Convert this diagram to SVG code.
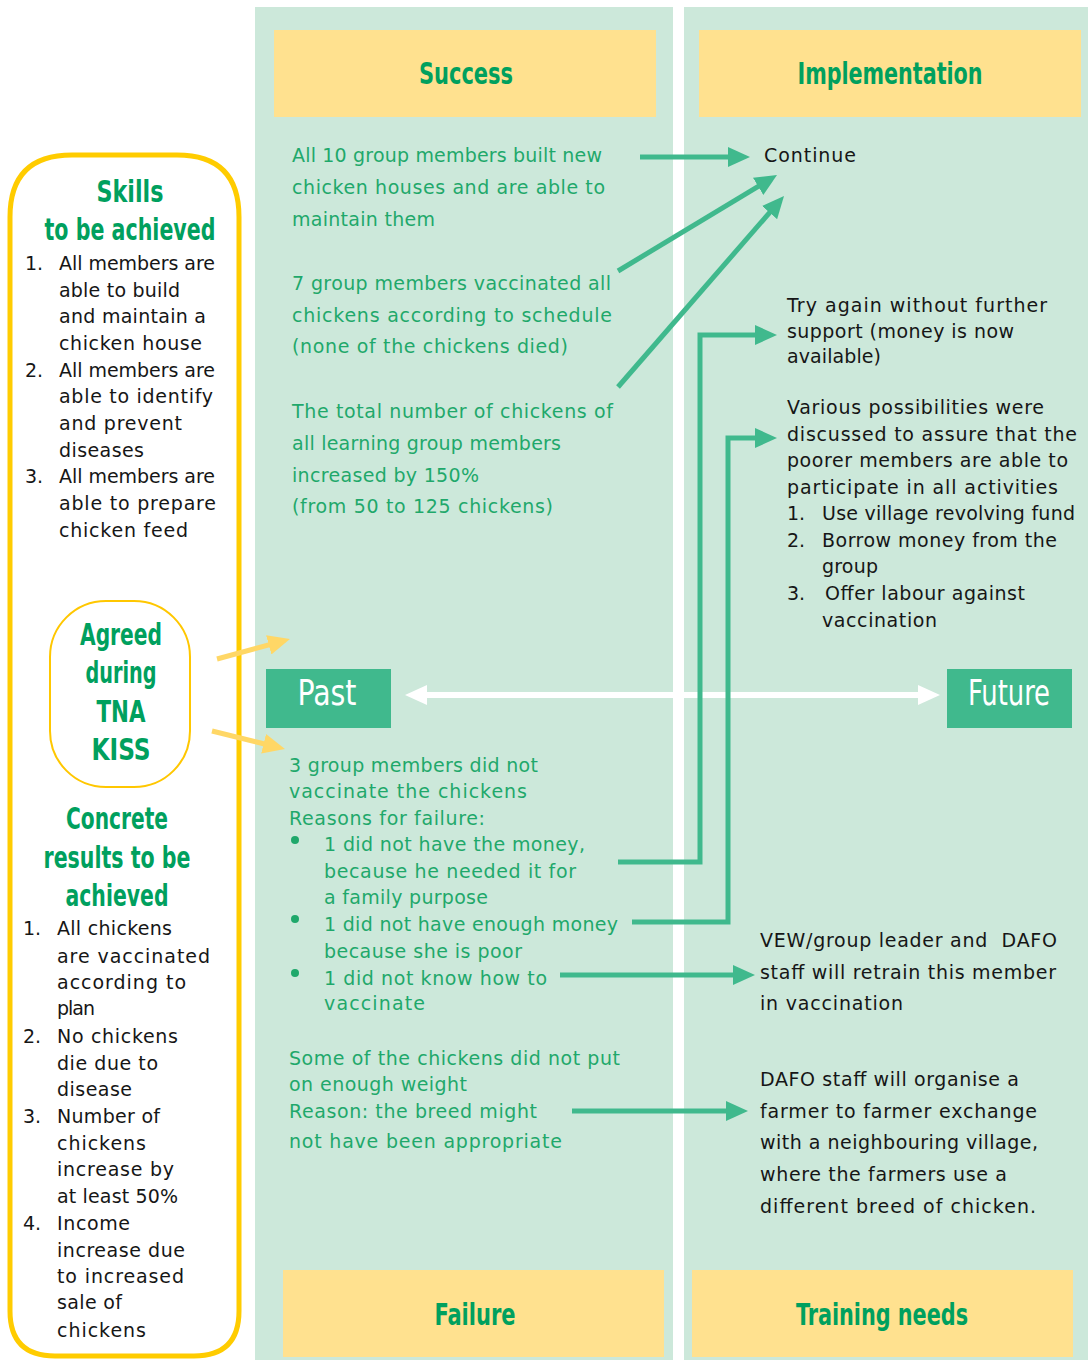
<svg xmlns="http://www.w3.org/2000/svg" width="1088" height="1360" viewBox="0 0 1088 1360">
  <style>
    .panel { fill: #cce8da; }
    .hbox { fill: #ffe18f; }
    .hd { font-family: "Liberation Sans Narrow", "DejaVu Sans Condensed", sans-serif; font-weight: bold; fill: #00a05e; text-anchor: middle; }
    .tl { font-family: "Liberation Sans Narrow", "DejaVu Sans Condensed", sans-serif; font-size: 35px; fill: #ffffff; text-anchor: middle; }
    .g { font-family: "DejaVu Sans", sans-serif; font-size: 19px; fill: #1fa86b; }
    .k { font-family: "DejaVu Sans", sans-serif; font-size: 19px; fill: #161616; }
    .link { fill: none; stroke: #40b98d; stroke-width: 5; stroke-linejoin: miter; }
    .ylink { fill: none; stroke: #ffd766; stroke-width: 5; }
  </style>
  <defs>
    <marker id="tip" viewBox="0 0 22 20" markerWidth="22" markerHeight="20" markerUnits="userSpaceOnUse" refX="4" refY="10" orient="auto">
      <path d="M0,0 L22,10 L0,20 z" fill="#40b98d"/>
    </marker>
    <marker id="ytip" viewBox="0 0 22 20" markerWidth="22" markerHeight="20" markerUnits="userSpaceOnUse" refX="4" refY="10" orient="auto">
      <path d="M0,0 L22,10 L0,20 z" fill="#ffd766"/>
    </marker>
    <marker id="wtip" viewBox="0 0 22 20" markerWidth="22" markerHeight="20" markerUnits="userSpaceOnUse" refX="4" refY="10" orient="auto-start-reverse">
      <path d="M0,0 L22,10 L0,20 z" fill="#ffffff"/>
    </marker>
  </defs>

  <rect width="1088" height="1360" fill="#ffffff"/>

  <!-- two background columns -->
  <rect class="panel" x="255" y="7" width="418" height="1353"/>
  <rect class="panel" x="684" y="7" width="404" height="1353"/>

  <!-- time axis -->
  <line x1="423" y1="695" x2="922" y2="695" stroke="#ffffff" stroke-width="6" marker-start="url(#wtip)" marker-end="url(#wtip)"/>

  <g id="success">
    <rect class="hbox" x="274" y="30" width="382" height="87"/>
    <text class="hd" x="466" y="84" font-size="30" textLength="94" lengthAdjust="spacingAndGlyphs">Success</text>
  </g>
  <g id="implementation">
    <rect class="hbox" x="699" y="30" width="382" height="87"/>
    <text class="hd" x="890" y="84" font-size="30" textLength="185" lengthAdjust="spacingAndGlyphs">Implementation</text>
  </g>
  <g id="failure">
    <rect class="hbox" x="283" y="1270" width="381" height="87"/>
    <text class="hd" x="475" y="1325" font-size="30" textLength="81" lengthAdjust="spacingAndGlyphs">Failure</text>
  </g>
  <g id="training-needs">
    <rect class="hbox" x="692" y="1270" width="381" height="87"/>
    <text class="hd" x="882" y="1325" font-size="30" textLength="172" lengthAdjust="spacingAndGlyphs">Training needs</text>
  </g>

  <g id="past">
    <rect x="266" y="669" width="125" height="59" fill="#40b98d"/>
    <text class="tl" x="327" y="705" textLength="59" lengthAdjust="spacingAndGlyphs">Past</text>
  </g>
  <g id="future">
    <rect x="947" y="669" width="125" height="59" fill="#40b98d"/>
    <text class="tl" x="1009" y="705" textLength="82" lengthAdjust="spacingAndGlyphs">Future</text>
  </g>

  <!-- left frame: skills and concrete results -->
  <g id="skills">
    <path d="M10,1311 L10,217 Q10,155 72,155 L177,155 Q239,155 239,217 L239,1311 Q239,1356 194,1356 L55,1356 Q10,1356 10,1311 z" fill="#ffffff" stroke="#ffcc00" stroke-width="5"/>
    <text class="hd" x="130" y="202" font-size="30" textLength="67" lengthAdjust="spacingAndGlyphs">Skills</text>
    <text class="hd" x="130" y="240" font-size="30" textLength="171" lengthAdjust="spacingAndGlyphs">to be achieved</text>
    <text class="k" x="25" y="270">1.</text>
    <text class="k" x="59" y="270" textLength="156">All members are</text>
    <text class="k" x="59" y="297" textLength="121">able to build</text>
    <text class="k" x="59" y="323" textLength="147">and maintain a</text>
    <text class="k" x="59" y="350" textLength="143">chicken house</text>
    <text class="k" x="25" y="377">2.</text>
    <text class="k" x="59" y="377" textLength="156">All members are</text>
    <text class="k" x="59" y="403" textLength="154">able to identify</text>
    <text class="k" x="59" y="430" textLength="123">and prevent</text>
    <text class="k" x="59" y="457" textLength="85">diseases</text>
    <text class="k" x="25" y="483">3.</text>
    <text class="k" x="59" y="483" textLength="156">All members are</text>
    <text class="k" x="59" y="510" textLength="157">able to prepare</text>
    <text class="k" x="59" y="537" textLength="129">chicken feed</text>
  </g>

  <g id="concrete-results">
    <text class="hd" x="117" y="829" font-size="30" textLength="102" lengthAdjust="spacingAndGlyphs">Concrete</text>
    <text class="hd" x="117" y="868" font-size="30" textLength="147" lengthAdjust="spacingAndGlyphs">results to be</text>
    <text class="hd" x="117" y="906" font-size="30" textLength="103" lengthAdjust="spacingAndGlyphs">achieved</text>
    <text class="k" x="23" y="935">1.</text>
    <text class="k" x="57" y="935" textLength="115">All chickens</text>
    <text class="k" x="57" y="963" textLength="153">are vaccinated</text>
    <text class="k" x="57" y="989" textLength="129">according to</text>
    <text class="k" x="57" y="1015" textLength="38">plan</text>
    <text class="k" x="23" y="1043">2.</text>
    <text class="k" x="57" y="1043" textLength="121">No chickens</text>
    <text class="k" x="57" y="1070" textLength="101">die due to</text>
    <text class="k" x="57" y="1096" textLength="75">disease</text>
    <text class="k" x="23" y="1123">3.</text>
    <text class="k" x="57" y="1123" textLength="103">Number of</text>
    <text class="k" x="57" y="1150" textLength="89">chickens</text>
    <text class="k" x="57" y="1176" textLength="117">increase by</text>
    <text class="k" x="57" y="1203" textLength="121">at least 50%</text>
    <text class="k" x="23" y="1230">4.</text>
    <text class="k" x="57" y="1230" textLength="73">Income</text>
    <text class="k" x="57" y="1257" textLength="128">increase due</text>
    <text class="k" x="57" y="1283" textLength="127">to increased</text>
    <text class="k" x="57" y="1309" textLength="65">sale of</text>
    <text class="k" x="57" y="1337" textLength="89">chickens</text>
  </g>

  <g id="agreed">
    <rect x="50" y="601" width="140" height="186" rx="56" ry="56" fill="#ffffff" stroke="#ffc700" stroke-width="2"/>
    <text class="hd" x="121" y="645" font-size="30" textLength="82" lengthAdjust="spacingAndGlyphs">Agreed</text>
    <text class="hd" x="121" y="683" font-size="30" textLength="71" lengthAdjust="spacingAndGlyphs">during</text>
    <text class="hd" x="121" y="722" font-size="30" textLength="49" lengthAdjust="spacingAndGlyphs">TNA</text>
    <text class="hd" x="121" y="760" font-size="30" textLength="59" lengthAdjust="spacingAndGlyphs">KISS</text>
  </g>

  <!-- success column -->
  <g id="success-houses">
    <text class="g" x="292" y="162" textLength="310">All 10 group members built new</text>
    <text class="g" x="292" y="194" textLength="313">chicken houses and are able to</text>
    <text class="g" x="292" y="226" textLength="143">maintain them</text>
  </g>
  <g id="success-vaccinated">
    <text class="g" x="292" y="290" textLength="319">7 group members vaccinated all</text>
    <text class="g" x="292" y="322" textLength="320">chickens according to schedule</text>
    <text class="g" x="292" y="353" textLength="276">(none of the chickens died)</text>
  </g>
  <g id="success-increase">
    <text class="g" x="292" y="418" textLength="321">The total number of chickens of</text>
    <text class="g" x="292" y="450" textLength="269">all learning group members</text>
    <text class="g" x="292" y="482" textLength="187">increased by 150%</text>
    <text class="g" x="292" y="513" textLength="261">(from 50 to 125 chickens)</text>
  </g>

  <!-- failure column -->
  <g id="failure-vaccination">
    <text class="g" x="289" y="772" textLength="249">3 group members did not</text>
    <text class="g" x="289" y="798" textLength="238">vaccinate the chickens</text>
    <text class="g" x="289" y="825" textLength="196">Reasons for failure:</text>
    <circle cx="295" cy="840" r="4" fill="#1fa86b"/>
    <text class="g" x="324" y="851" textLength="261">1 did not have the money,</text>
    <text class="g" x="324" y="878" textLength="252">because he needed it for</text>
    <text class="g" x="324" y="904" textLength="164">a family purpose</text>
    <circle cx="295" cy="919" r="4" fill="#1fa86b"/>
    <text class="g" x="324" y="931" textLength="294">1 did not have enough money</text>
    <text class="g" x="324" y="958" textLength="198">because she is poor</text>
    <circle cx="295" cy="973" r="4" fill="#1fa86b"/>
    <text class="g" x="324" y="985" textLength="223">1 did not know how to</text>
    <text class="g" x="324" y="1010" textLength="101">vaccinate</text>
  </g>
  <g id="failure-weight">
    <text class="g" x="289" y="1065" textLength="331">Some of the chickens did not put</text>
    <text class="g" x="289" y="1091" textLength="178">on enough weight</text>
    <text class="g" x="289" y="1118" textLength="248">Reason: the breed might</text>
    <text class="g" x="289" y="1148" textLength="273">not have been appropriate</text>
  </g>

  <!-- implementation / training column -->
  <g id="continue">
    <text class="k" x="764" y="162" textLength="92">Continue</text>
  </g>
  <g id="try-again">
    <text class="k" x="787" y="312" textLength="260">Try again without further</text>
    <text class="k" x="787" y="338" textLength="227">support (money is now</text>
    <text class="k" x="787" y="363" textLength="94">available)</text>
  </g>
  <g id="possibilities">
    <text class="k" x="787" y="414" textLength="257">Various possibilities were</text>
    <text class="k" x="787" y="441" textLength="290">discussed to assure that the</text>
    <text class="k" x="787" y="467" textLength="281">poorer members are able to</text>
    <text class="k" x="787" y="494" textLength="271">participate in all activities</text>
    <text class="k" x="787" y="520">1.</text>
    <text class="k" x="822" y="520" textLength="253">Use village revolving fund</text>
    <text class="k" x="787" y="547">2.</text>
    <text class="k" x="822" y="547" textLength="235">Borrow money from the</text>
    <text class="k" x="822" y="573" textLength="56">group</text>
    <text class="k" x="787" y="600">3.</text>
    <text class="k" x="825" y="600" textLength="200">Offer labour against</text>
    <text class="k" x="822" y="627" textLength="115">vaccination</text>
  </g>
  <g id="retrain">
    <text class="k" x="760" y="947" textLength="297" xml:space="preserve">VEW/group leader and  DAFO</text>
    <text class="k" x="760" y="979" textLength="296">staff will retrain this member</text>
    <text class="k" x="760" y="1010" textLength="143">in vaccination</text>
  </g>
  <g id="exchange">
    <text class="k" x="760" y="1086" textLength="259">DAFO staff will organise a</text>
    <text class="k" x="760" y="1118" textLength="277">farmer to farmer exchange</text>
    <text class="k" x="760" y="1149" textLength="278">with a neighbouring village,</text>
    <text class="k" x="760" y="1181" textLength="247">where the farmers use a</text>
    <text class="k" x="760" y="1213" textLength="276">different breed of chicken.</text>
  </g>

  <!-- connectors -->
  <g id="connectors">
    <line class="link" x1="640" y1="157" x2="732" y2="157" marker-end="url(#tip)"/>
    <line class="link" x1="618" y1="271" x2="761.6" y2="184.3" marker-end="url(#tip)"/>
    <line class="link" x1="618" y1="387" x2="772.2" y2="209.6" marker-end="url(#tip)"/>
    <polyline class="link" points="618,862 700,862 700,335 759,335" marker-end="url(#tip)"/>
    <polyline class="link" points="632,922 728,922 728,438 759,438" marker-end="url(#tip)"/>
    <line class="link" x1="560" y1="975" x2="737" y2="975" marker-end="url(#tip)"/>
    <line class="link" x1="572" y1="1111" x2="730" y2="1111" marker-end="url(#tip)"/>
    <line class="ylink" x1="217" y1="659" x2="272.6" y2="643.8" marker-end="url(#ytip)"/>
    <line class="ylink" x1="212" y1="731" x2="267.5" y2="744.7" marker-end="url(#ytip)"/>
  </g>
</svg>
